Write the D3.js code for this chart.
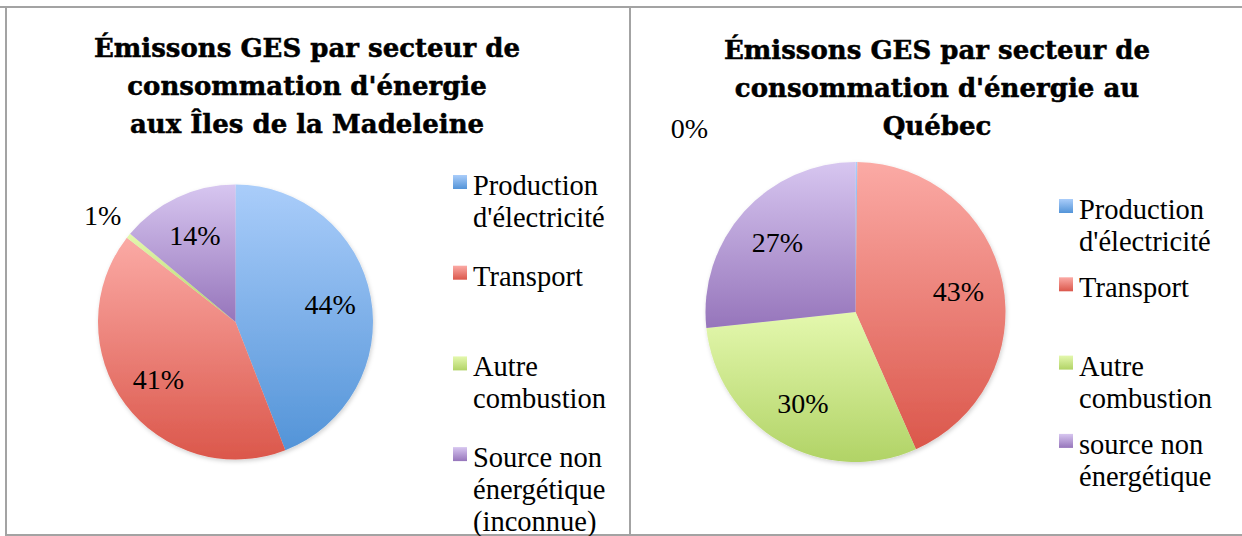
<!DOCTYPE html>
<html>
<head>
<meta charset="utf-8">
<script src="https://cdn.jsdelivr.net/npm/d3@7"></script>
<style>
  html, body { margin: 0; padding: 0; background: #fff; overflow: hidden; }
  svg { display: block; }
</style>
</head>
<body>
<div id="wrapper"></div>
<script>
// categories (legend lines) and values
const leftTitle = ['Émissons GES par secteur de', "consommation d'énergie", 'aux Îles de la Madeleine'];
const leftCategories = [
  ['Production', "d'électricité"],
  ['Transport'],
  ['Autre', 'combustion'],
  ['Source non', 'énergétique', '(inconnue)'],
];
const leftValues = [44.1, 41.4, 0.6, 13.9];

const rightTitle = ['Émissons GES par secteur de', "consommation d'énergie au", 'Québec'];
const rightCategories = [
  ['Production', "d'électricité"],
  ['Transport'],
  ['Autre', 'combustion'],
  ['source non', 'énergétique'],
];
const rightValues = [0.2, 43.2, 29.9, 26.7];

// top / bottom colours of each slice gradient
const sliceColors = [
  ['#aacdfa', '#5394d8'],
  ['#fbaaa5', '#db574b'],
  ['#e4f8ae', '#b1d366'],
  ['#d7c6f0', '#9675bb'],
];

function drawCharts() {
  const dimensions = { width: 1242, height: 536 };

  const wrapper = d3
    .select('#wrapper')
    .append('svg')
    .attr('width', dimensions.width)
    .attr('height', dimensions.height);

  const defs = wrapper.append('defs');
  sliceColors.forEach((c, i) => {
    const g = defs.append('linearGradient')
      .attr('id', `grad-${i}`)
      .attr('x1', 0).attr('y1', 0).attr('x2', 0).attr('y2', 1);
    g.append('stop').attr('offset', '0%').attr('stop-color', c[0]);
    g.append('stop').attr('offset', '100%').attr('stop-color', c[1]);
  });
  defs.append('filter')
    .attr('id', 'shadow')
    .attr('x', '-10%').attr('y', '-10%').attr('width', '120%').attr('height', '120%')
    .append('feDropShadow')
    .attr('dx', 1).attr('dy', 2).attr('stdDeviation', 2)
    .attr('flood-color', '#000').attr('flood-opacity', 0.18);

  // frame lines
  const frame = wrapper.append('g')
    .attr('fill', 'none')
    .attr('stroke', '#a3a3a3')
    .attr('stroke-width', 2);
  frame.append('line').attr('x1', 0).attr('x2', dimensions.width).attr('y1', 7).attr('y2', 7);
  frame.append('line').attr('x1', 6).attr('x2', 6).attr('y1', 7).attr('y2', 536);
  frame.append('line').attr('x1', 630).attr('x2', 630).attr('y1', 7).attr('y2', 536);
  frame.append('line').attr('x1', 6).attr('x2', dimensions.width).attr('y1', 535).attr('y2', 535);

  const charts = [
    {
      title: leftTitle, categories: leftCategories, values: leftValues,
      titleX: 307, titleY: 57,
      cx: 235.5, cy: 322, r: 137.5,
      legendX: 453, legendY: 195, legendStep: 90.7,
      smallLabel: null,
    },
    {
      title: rightTitle, categories: rightCategories, values: rightValues,
      titleX: 937, titleY: 59,
      cx: 855.5, cy: 312, r: 150,
      legendX: 1059, legendY: 219, legendStep: 78.3,
      smallLabel: { dx: -166, dy: -184 },
    },
  ];

  const serif = "'Liberation Serif', 'Times New Roman', serif";
  const lineHeight = 32;

  charts.forEach((chart) => {
    // title
    wrapper.append('text')
      .attr('x', chart.titleX)
      .attr('y', chart.titleY)
      .attr('text-anchor', 'middle')
      .style('font-family', "'DejaVu Serif', serif")
      .style('font-weight', 'bold')
      .style('font-size', '26px')
      .style('fill', '#000')
      .style('stroke', '#000')
      .style('stroke-width', 0.5)
      .selectAll('tspan')
      .data(chart.title)
      .join('tspan')
      .attr('x', chart.titleX)
      .attr('dy', (d, i) => (i === 0 ? 0 : 38))
      .text((d) => d);

    const pie = d3.pie().sort(null).value((d) => d);
    const arcs = pie(chart.values);
    const arcGenerator = d3.arc().innerRadius(0).outerRadius(chart.r);
    const labelArc = d3.arc().innerRadius(chart.r * 0.7).outerRadius(chart.r * 0.7);

    const bounds = wrapper.append('g')
      .attr('transform', `translate(${chart.cx}, ${chart.cy})`);

    bounds.append('g')
      .attr('filter', 'url(#shadow)')
      .selectAll('path')
      .data(arcs)
      .join('path')
      .attr('d', arcGenerator)
      .attr('fill', (d, i) => `url(#grad-${i})`);

    bounds.selectAll('.pct')
      .data(arcs)
      .join('text')
      .attr('class', 'pct')
      .attr('transform', (d) => {
        if (d.data >= 3) return `translate(${labelArc.centroid(d)})`;
        if (chart.smallLabel) return `translate(${chart.smallLabel.dx}, ${chart.smallLabel.dy})`;
        const a = (d.startAngle + d.endAngle) / 2;
        const dist = chart.r + 33;
        return `translate(${Math.sin(a) * dist}, ${-Math.cos(a) * dist})`;
      })
      .attr('text-anchor', 'middle')
      .attr('dy', '0.35em')
      .style('font-family', serif)
      .style('font-size', '28px')
      .style('fill', '#000')
      .text((d) => `${Math.round(d.data)}%`);

    // legend
    const legend = wrapper.append('g');
    const items = legend.selectAll('g')
      .data(chart.categories)
      .join('g')
      .attr('transform', (d, i) => `translate(${chart.legendX}, ${chart.legendY + i * chart.legendStep})`);

    items.append('rect')
      .attr('x', 0)
      .attr('y', -20)
      .attr('width', 14)
      .attr('height', 14)
      .attr('fill', (d, i) => `url(#grad-${i})`);

    items.append('text')
      .style('font-family', serif)
      .style('font-size', '28.5px')
      .style('fill', '#000')
      .selectAll('tspan')
      .data((d) => d)
      .join('tspan')
      .attr('x', 20)
      .attr('y', (d, i) => i * lineHeight)
      .text((d) => d);
  });
}

drawCharts();
</script>
</body>
</html>
